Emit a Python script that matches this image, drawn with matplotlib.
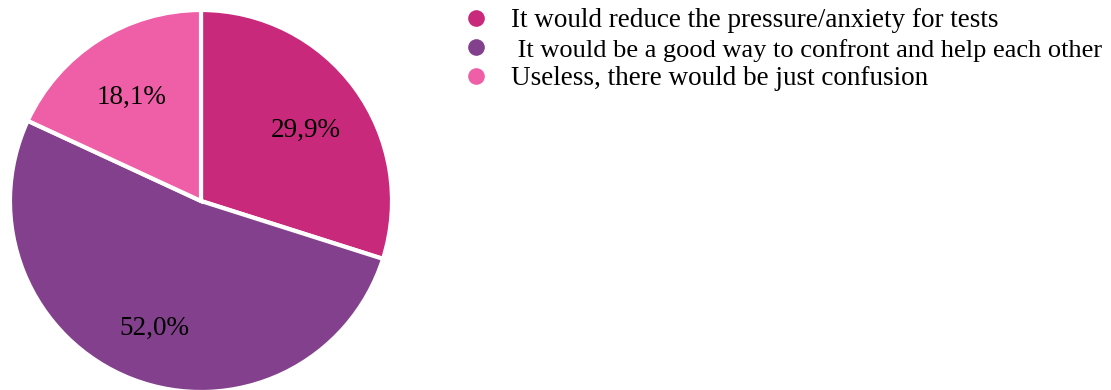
import matplotlib
matplotlib.use("Agg")
import matplotlib.pyplot as plt
from matplotlib.lines import Line2D
from matplotlib.transforms import ScaledTranslation

labels = ["It would reduce the pressure/anxiety for tests",
          " It would be a good way to confront and help each other",
          "Useless, there would be just confusion"]
values = [29.9, 52.0, 18.1]
colors = ["#C8297A", "#83408C", "#EF5FA7"]

W, H = 1111, 390
fig = plt.figure(figsize=(W/100, H/100), dpi=100)
cx, cy, r = 201, 201, 191
ax = fig.add_axes([(cx - r)/W, (H - cy - r)/H, 2*r/W, 2*r/H])

wedges, texts, autotexts = ax.pie(
    values, colors=colors, startangle=90, counterclock=False, radius=1,
    autopct=lambda p: f"{p:.1f}%".replace(".", ","), pctdistance=0.68,
    wedgeprops=dict(edgecolor="white", linewidth=3),
    textprops=dict(fontsize=19.5, family="Liberation Serif", color="black"))
ax.set_xlim(-1, 1); ax.set_ylim(-1, 1)
ax.axis("off")
for w in wedges:
    w.set_clip_on(False)
shift = ScaledTranslation(0, -6/100, fig.dpi_scale_trans)
for t in autotexts:
    t.set_transform(t.get_transform() + shift)

handles = [Line2D([0], [0], marker="o", linestyle="none", markersize=13,
                  markerfacecolor=c, markeredgecolor="white") for c in colors]
leg = fig.legend(handles, labels, loc="upper left", bbox_to_anchor=(460/W, 1 - 8/H),
           frameon=False, prop=dict(family="Liberation Serif", size=19.5),
           labelspacing=0.17, handletextpad=0.7, handlelength=1.2, borderaxespad=0,
           borderpad=0)

# fit second legend entry to the reference width
fig.canvas.draw()
rend = fig.canvas.get_renderer()
t2 = leg.get_texts()[1]
bb = t2.get_window_extent(rend)
target_right = 1101
if bb.x1 > target_right:
    t2.set_fontsize(19.5 * (target_right - bb.x0) / (bb.x1 - bb.x0))

fig.savefig("out.png", dpi=100)
